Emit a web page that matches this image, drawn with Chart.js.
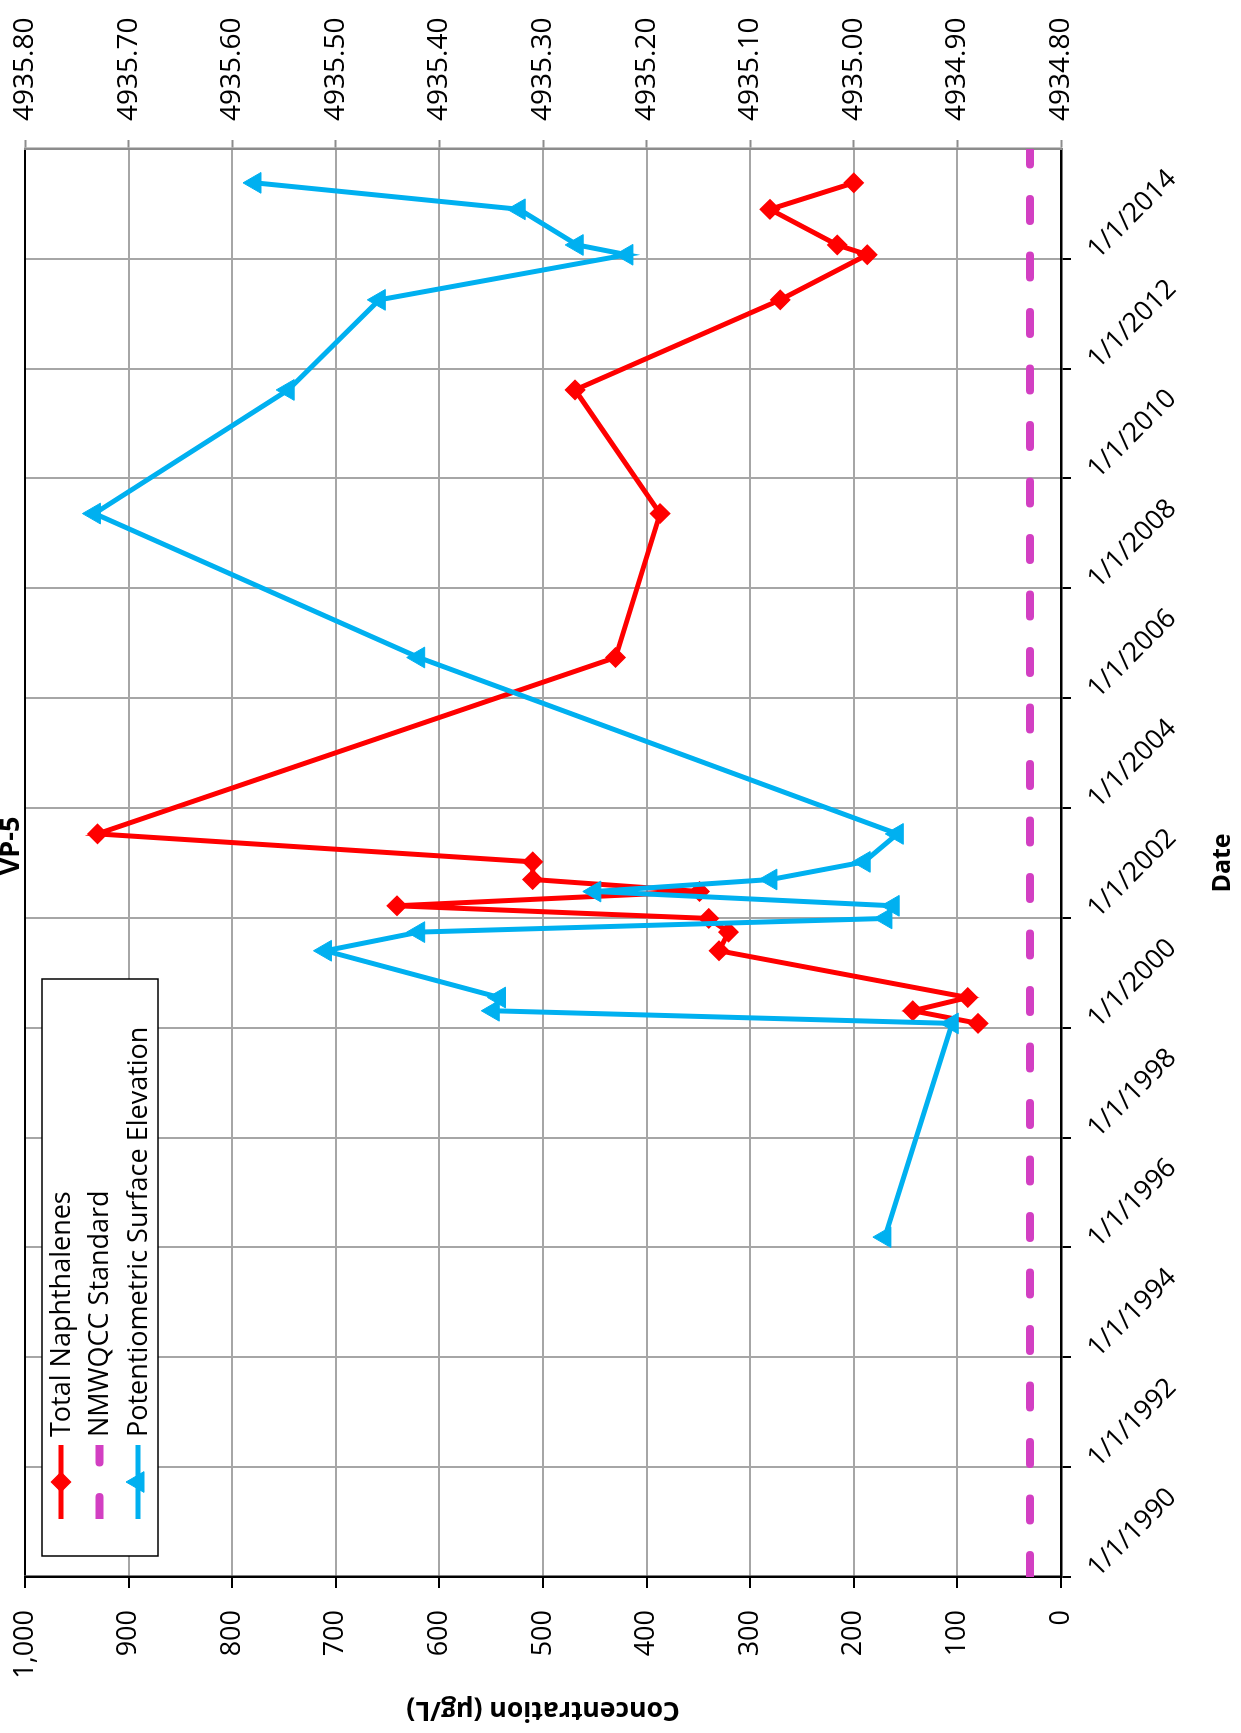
<!DOCTYPE html>
<html>
<head>
<meta charset="utf-8">
<title>VP-5</title>
<script src="https://cdn.jsdelivr.net/npm/chart.js@4.4.1/dist/chart.umd.min.js"></script>
<style>
  html, body { margin: 0; padding: 0; background: #fff; }
  body { width: 1241px; height: 1733px; overflow: hidden; position: relative; }
  /* the chart is built landscape and then turned a quarter turn counter-clockwise */
  #wrap {
    position: absolute; left: 0; top: 0; width: 1733px; height: 1241px;
    transform-origin: 0 0; transform: translate(0, 1733px) rotate(-90deg);
  }
</style>
</head>
<body>
<div id="wrap"><canvas id="chartVP5" width="1733" height="1241"></canvas></div>
<script>
// sampling events (shared by both measured series)
const sampleDates = [
    '1996-03-10', '2000-01-30', '2000-04-23', '2000-07-20', '2001-05-27',
    '2001-09-28', '2001-12-28', '2002-03-22', '2002-06-25', '2002-09-13',
    '2003-01-08', '2003-07-13', '2006-09-28', '2009-05-12', '2011-08-12',
    '2013-04-02', '2014-01-27', '2014-04-02', '2014-11-25', '2015-05-20'
];
// Total Naphthalenes, ug/L (not sampled in 1996)
const naphthalenes = [
    null, 80, 143, 90, 330,
    321, 340, 641, 349, 510,
    510, 930, 430, 387, 469,
    271, 187, 216, 281, 200
];
// Potentiometric surface elevation, ft
const elevations = [
    4934.970, 4934.905, 4935.348, 4935.342, 4935.510,
    4935.420, 4934.969, 4934.962, 4935.250, 4935.080,
    4934.990, 4934.958, 4935.420, 4935.733, 4935.546,
    4935.458, 4935.219, 4935.267, 4935.323, 4935.578
];
const standardLevel = 30;   // NMWQCC standard, ug/L
const dateTickYears = [1990, 1992, 1994, 1996, 1998, 2000, 2002, 2004, 2006, 2008, 2010, 2012, 2014];
const dateMin = '1990-01-01';
const dateMax = '2015-12-31';

const FONT = '"Open Sans", "DejaVu Sans", sans-serif';
const GRID = '#a6a6a6';

function toTime(s) {
    const [y, m, d] = s.split('-').map(Number);
    return Date.UTC(y, m - 1, d);
}

function formatDate(ms) {
    const d = new Date(ms);
    return (d.getUTCMonth() + 1) + '/' + d.getUTCDate() + '/' + d.getUTCFullYear();
}

const naphData = sampleDates
    .map((d, i) => ({ x: toTime(d), y: naphthalenes[i] }))
    .filter(p => p.y !== null);
const elevData = sampleDates.map((d, i) => ({ x: toTime(d), y: elevations[i] }));
const standardData = [
    { x: toTime(dateMin), y: standardLevel },
    { x: toTime(dateMax), y: standardLevel }
];

// keep the plot area where it is: no extra room for the end labels
function fixWidth(w) {
    return scale => {
        scale.width = w;
        scale.paddingTop = 0;
        scale.paddingBottom = 0;
    };
}

// rotated date labels that hang down-right from each tick
const dateLabels = {
    id: 'dateLabels',
    afterDraw(chart) {
        const scale = chart.scales.x;
        const ctx = chart.ctx;
        ctx.save();
        ctx.font = '27px ' + FONT;
        ctx.fillStyle = '#000';
        ctx.textAlign = 'left';
        ctx.textBaseline = 'alphabetic';
        scale.ticks.forEach(t => {
            const px = scale.getPixelForValue(t.value);
            ctx.save();
            ctx.translate(px - 1, scale.top + 37);
            ctx.rotate(Math.PI / 4);
            ctx.fillText(formatDate(t.value), 0, 0);
            ctx.restore();
        });
        ctx.restore();
    }
};

// boxed legend in the upper left of the plot, plus the chart title
const boxedLegend = {
    id: 'boxedLegend',
    afterDraw(chart) {
        const ctx = chart.ctx;
        const area = chart.chartArea;
        const box = { x: area.left + 21, y: area.top + 17, w: 577, h: 116 };
        ctx.save();
        ctx.fillStyle = '#fff';
        ctx.fillRect(box.x, box.y, box.w, box.h);
        ctx.strokeStyle = '#000';
        ctx.lineWidth = 1.5;
        ctx.strokeRect(box.x, box.y, box.w, box.h);

        const x0 = box.x + 37, x1 = box.x + 111;
        chart.data.datasets.forEach((ds, i) => {
            const y = box.y + 19 + i * 38.5;
            ctx.save();
            ctx.beginPath();
            ctx.rect(x0, y - 10, x1 - x0, 20);
            ctx.clip();
            ctx.strokeStyle = ds.borderColor;
            ctx.lineWidth = ds.borderWidth;
            ctx.lineCap = ds.borderCapStyle || 'butt';
            ctx.setLineDash(ds.borderDash || []);
            ctx.beginPath();
            ctx.moveTo(x0, y);
            ctx.lineTo(x1, y);
            ctx.stroke();
            ctx.restore();
            if (ds.pointRadius > 0) {
                ctx.fillStyle = ds.pointBackgroundColor;
                ctx.strokeStyle = ds.pointBorderColor;
                ctx.lineWidth = ds.pointBorderWidth;
                Chart.helpers.drawPoint(ctx, { pointStyle: ds.pointStyle, radius: ds.pointRadius, borderWidth: ds.pointBorderWidth }, (x0 + x1) / 2, y);
            }
            ctx.fillStyle = '#000';
            ctx.font = '27px ' + FONT;
            ctx.textAlign = 'left';
            ctx.textBaseline = 'middle';
            ctx.fillText(ds.label, x1 + 8, y + 1);
        });

        ctx.font = 'bold 27px ' + FONT;
        ctx.textAlign = 'center';
        ctx.textBaseline = 'alphabetic';
        ctx.fillText('VP-5', (area.left + area.right) / 2 + 17, 19);
        ctx.restore();
    }
};

const ctx = document.getElementById('chartVP5').getContext('2d');
new Chart(ctx, {
    type: 'line',
    data: {
        datasets: [
            {
                label: 'Total Naphthalenes',
                data: naphData,
                yAxisID: 'y',
                borderColor: '#ff0000',
                borderWidth: 5,
                pointStyle: 'rectRot',
                pointRadius: 9.5,
                pointBackgroundColor: '#ff0000',
                pointBorderColor: '#ff0000',
                pointBorderWidth: 1.5,
                tension: 0,
                order: 2
            },
            {
                label: 'NMWQCC Standard',
                data: standardData,
                yAxisID: 'y',
                borderColor: '#d23fc2',
                borderWidth: 8,
                borderDash: [22, 34.5],
                borderCapStyle: 'round',
                pointRadius: 0,
                clip: 0,
                order: 1
            },
            {
                label: 'Potentiometric Surface Elevation',
                data: elevData,
                yAxisID: 'y1',
                borderColor: '#00b0f0',
                borderWidth: 5,
                pointStyle: 'triangle',
                pointRadius: 12,
                pointBackgroundColor: '#00b0f0',
                pointBorderColor: '#00b0f0',
                pointBorderWidth: 1,
                tension: 0,
                order: 0
            }
        ]
    },
    options: {
        responsive: false,
        animation: false,
        devicePixelRatio: 1,
        layout: { padding: { top: 25, left: 0, right: 0, bottom: 0 } },
        plugins: {
            legend: { display: false },
            title: { display: false },
            tooltip: { enabled: false }
        },
        scales: {
            x: {
                type: 'linear',
                position: 'bottom',
                min: toTime(dateMin),
                max: toTime(dateMax),
                afterBuildTicks: scale => {
                    scale.ticks = dateTickYears.map(y => ({ value: Date.UTC(y, 0, 1) }));
                },
                afterFit: scale => {
                    scale.height = 180;
                    scale.paddingLeft = 0;
                    scale.paddingRight = 0;
                },
                ticks: { display: false },
                grid: { color: GRID, lineWidth: 2, tickLength: 10, tickColor: '#000', tickWidth: 2 },
                border: { color: '#000', width: 2.5 },
                title: {
                    display: true, text: 'Date', color: '#000',
                    font: { family: FONT, size: 25, weight: 'bold' },
                    padding: { top: 0, bottom: 3 }
                }
            },
            y: {
                position: 'left',
                min: 0,
                max: 1000,
                afterFit: fixWidth(156),
                ticks: {
                    stepSize: 100,
                    padding: 22,
                    color: '#000',
                    font: { family: FONT, size: 27 },
                    callback: v => v.toLocaleString('en-US')
                },
                grid: {
                    color: c => (c.tick && c.tick.value === 1000 ? '#000' : GRID),
                    lineWidth: 2, tickLength: 11, tickColor: '#000', tickWidth: 2
                },
                border: { color: '#000', width: 2.5 },
                title: {
                    display: true, text: 'Concentration (µg/L)', color: '#000',
                    font: { family: FONT, size: 26.5, weight: 'bold' },
                    padding: { top: 8, bottom: 0 }
                }
            },
            y1: {
                position: 'right',
                min: 4934.8,
                max: 4935.8,
                afterFit: fixWidth(149),
                ticks: {
                    stepSize: 0.1,
                    padding: 19,
                    color: '#000',
                    font: { family: FONT, size: 28 },
                    callback: v => Number(v).toFixed(2)
                },
                grid: { drawOnChartArea: false, tickLength: 9, tickColor: '#8c8c8c', tickWidth: 2 },
                border: { color: '#8c8c8c', width: 2.5 }
            }
        }
    },
    plugins: [dateLabels, boxedLegend]
});
</script>
</body>
</html>
